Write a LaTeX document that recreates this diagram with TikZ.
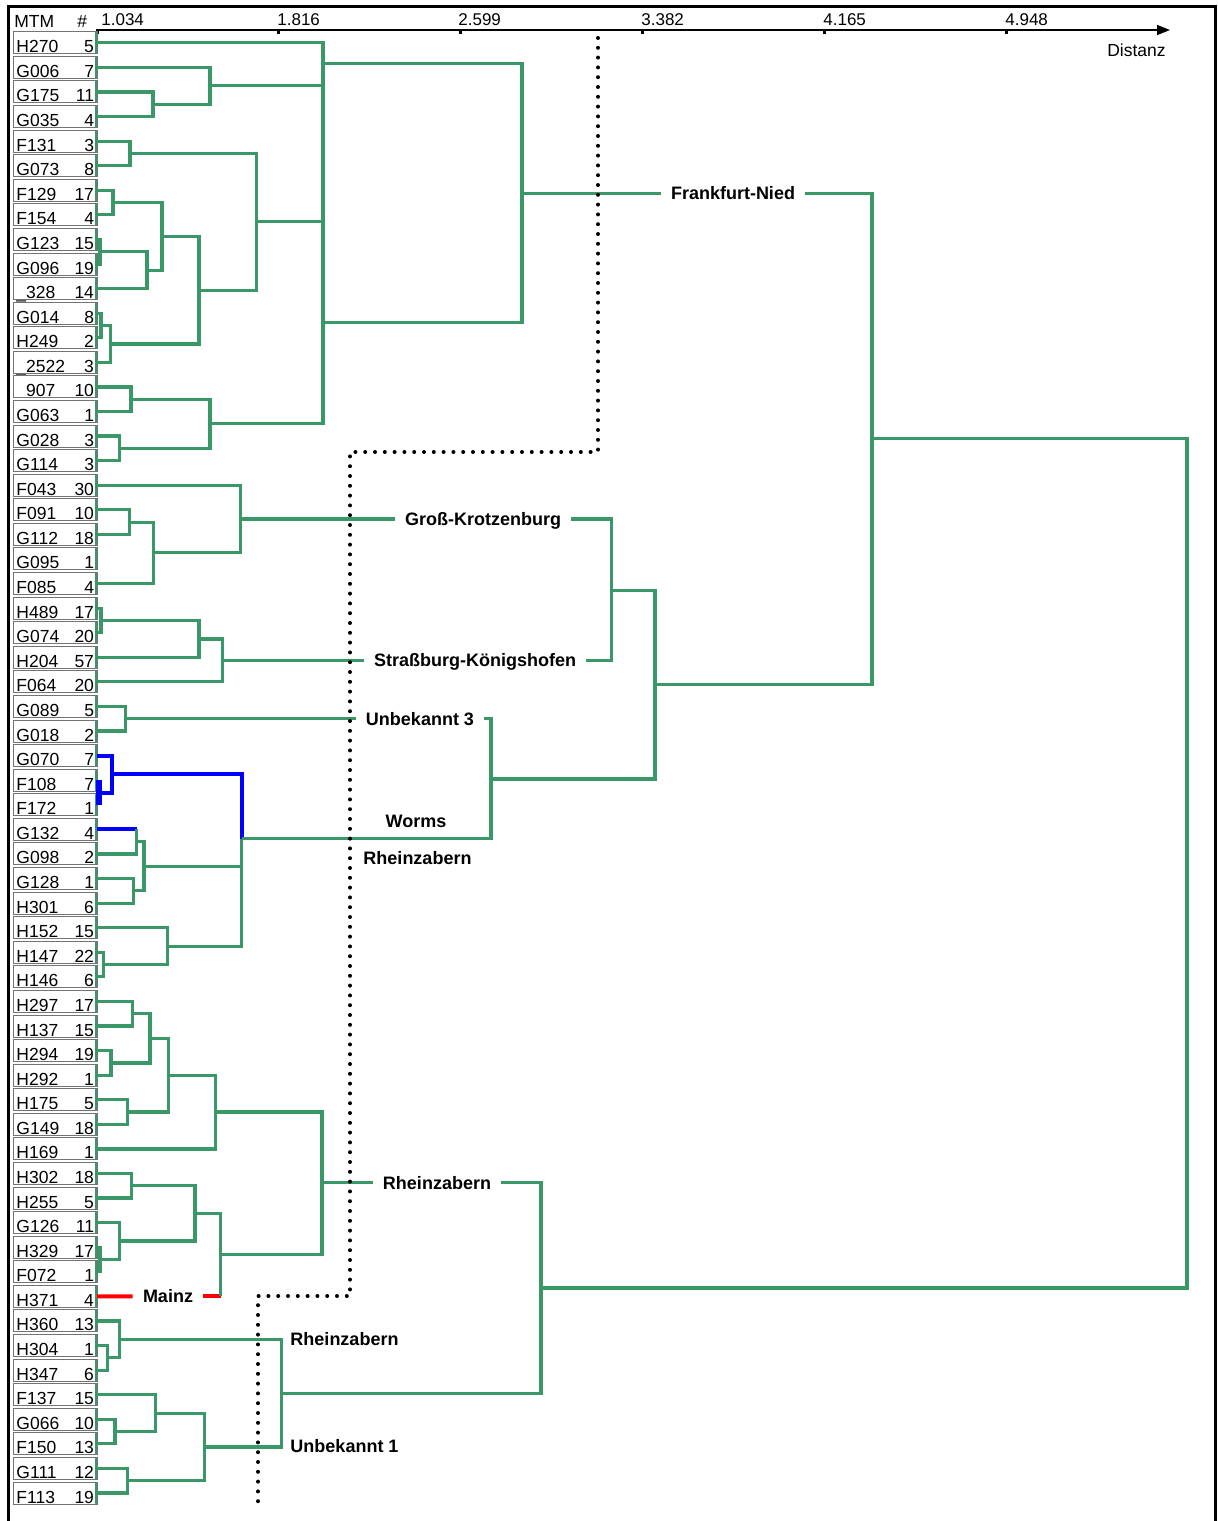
\documentclass[tikz,border=0pt]{standalone}
\usepackage{fontspec}
\setmainfont{Liberation Sans}
\usetikzlibrary{positioning, calc, arrows.meta}

\definecolor{treegreen}{RGB}{58,152,104}
\definecolor{wormsblue}{RGB}{0,0,255}
\definecolor{mainzred}{RGB}{255,0,0}

\tikzset{
  leaf/.style={draw=black!55, line width=0.5pt, outer sep=0pt, text width=38.75pt, text height=10pt, text depth=0pt,
    inner xsep=1.5pt, inner ysep=0.5pt, font=\fontsize{8.75}{10}\selectfont,
    path picture={\draw[treegreen, line width=0.8pt] ([xshift=-0.6pt]path picture bounding box.north east) -- ([xshift=-0.6pt]path picture bounding box.south east);}},
  link/.style={draw=treegreen, line width=1.6pt},
  worms/.style={draw=wormsblue, line width=2pt},
  mainz/.style={draw=mainzred, line width=2pt},
  site/.style={font=\fontsize{9}{10}\selectfont\bfseries, inner xsep=5pt, inner ysep=0pt, text height=6.5pt, text depth=0pt},
  cut/.style={draw=black, line width=2pt, line cap=round, dash pattern=on 0pt off 4.9pt},
  tickmark/.style={fill=black, minimum width=1.5pt, minimum height=2.5pt, inner sep=0pt},
  scalelabel/.style={font=\fontsize{8.5}{10}\selectfont, inner sep=0pt, anchor=west, text height=6.2pt, text depth=0pt},
}

\begin{document}
\begin{tikzpicture}[x=0.5pt, y=-0.5pt, node distance=1.29pt]
        \useasboundingbox (0,0) rectangle (1217,1521);

        % Frame
        \draw[line width=1.5pt] (8.7,1521) -- (8.7,6) -- (1215,6) -- (1215,1521);

        % Header and axis
        \node[scalelabel, font=\fontsize{8.75}{10}\selectfont] (mtm) at (14,21) {MTM};
        \node[scalelabel, font=\fontsize{8.75}{10}\selectfont] (hash) at (77,21) {\#};
        \draw[line width=0.75pt, -{Triangle[length=6.5pt, width=5pt]}] (97,30) -- (1170,30);
        \node[tickmark] (t1) at (97.5,31) {};
        \node[tickmark] (t2) at (278.9,31) {};
        \node[tickmark] (t3) at (460.8,31) {};
        \node[tickmark] (t4) at (642.7,31) {};
        \node[tickmark] (t5) at (824.6,31) {};
        \node[tickmark] (t6) at (1006.5,31) {};
        \node[scalelabel] (s1) at (101,19) {1.034};
        \node[scalelabel] (s2) at (277,19) {1.816};
        \node[scalelabel] (s3) at (458,19) {2.599};
        \node[scalelabel] (s4) at (641,19) {3.382};
        \node[scalelabel] (s5) at (823,19) {4.165};
        \node[scalelabel] (s6) at (1005,19) {4.948};
        \node[scalelabel, anchor=east, font=\fontsize{8.75}{10}\selectfont] (dist) at (1166,50) {Distanz};

        % Leaves
        \node[leaf] (H270) at (55.25,42.8) {H270\hfill 5};
        \node[leaf, below=of H270] (G006) {G006\hfill 7};
        \node[leaf, below=of G006] (G175) {G175\hfill 11};
        \node[leaf, below=of G175] (G035) {G035\hfill 4};
        \node[leaf, below=of G035] (F131) {F131\hfill 3};
        \node[leaf, below=of F131] (G073) {G073\hfill 8};
        \node[leaf, below=of G073] (F129) {F129\hfill 17};
        \node[leaf, below=of F129] (F154) {F154\hfill 4};
        \node[leaf, below=of F154] (G123) {G123\hfill 15};
        \node[leaf, below=of G123] (G096) {G096\hfill 19};
        \node[leaf, below=of G096] (n328) {\_328\hfill 14};
        \node[leaf, below=of n328] (G014) {G014\hfill 8};
        \node[leaf, below=of G014] (H249) {H249\hfill 2};
        \node[leaf, below=of H249] (n2522) {\_2522\hfill 3};
        \node[leaf, below=of n2522] (n907) {\hphantom{\_}907\hfill 10};
        \node[leaf, below=of n907] (G063) {G063\hfill 1};
        \node[leaf, below=of G063] (G028) {G028\hfill 3};
        \node[leaf, below=of G028] (G114) {G114\hfill 3};
        \node[leaf, below=of G114] (F043) {F043\hfill 30};
        \node[leaf, below=of F043] (F091) {F091\hfill 10};
        \node[leaf, below=of F091] (G112) {G112\hfill 18};
        \node[leaf, below=of G112] (G095) {G095\hfill 1};
        \node[leaf, below=of G095] (F085) {F085\hfill 4};
        \node[leaf, below=of F085] (H489) {H489\hfill 17};
        \node[leaf, below=of H489] (G074) {G074\hfill 20};
        \node[leaf, below=of G074] (H204) {H204\hfill 57};
        \node[leaf, below=of H204] (F064) {F064\hfill 20};
        \node[leaf, below=of F064] (G089) {G089\hfill 5};
        \node[leaf, below=of G089] (G018) {G018\hfill 2};
        \node[leaf, below=of G018] (G070) {G070\hfill 7};
        \node[leaf, below=of G070] (F108) {F108\hfill 7};
        \node[leaf, below=of F108] (F172) {F172\hfill 1};
        \node[leaf, below=of F172] (G132) {G132\hfill 4};
        \node[leaf, below=of G132] (G098) {G098\hfill 2};
        \node[leaf, below=of G098] (G128) {G128\hfill 1};
        \node[leaf, below=of G128] (H301) {H301\hfill 6};
        \node[leaf, below=of H301] (H152) {H152\hfill 15};
        \node[leaf, below=of H152] (H147) {H147\hfill 22};
        \node[leaf, below=of H147] (H146) {H146\hfill 6};
        \node[leaf, below=of H146] (H297) {H297\hfill 17};
        \node[leaf, below=of H297] (H137) {H137\hfill 15};
        \node[leaf, below=of H137] (H294) {H294\hfill 19};
        \node[leaf, below=of H294] (H292) {H292\hfill 1};
        \node[leaf, below=of H292] (H175) {H175\hfill 5};
        \node[leaf, below=of H175] (G149) {G149\hfill 18};
        \node[leaf, below=of G149] (H169) {H169\hfill 1};
        \node[leaf, below=of H169] (H302) {H302\hfill 18};
        \node[leaf, below=of H302] (H255) {H255\hfill 5};
        \node[leaf, below=of H255] (G126) {G126\hfill 11};
        \node[leaf, below=of G126] (H329) {H329\hfill 17};
        \node[leaf, below=of H329] (F072) {F072\hfill 1};
        \node[leaf, below=of F072] (H371) {H371\hfill 4};
        \node[leaf, below=of H371] (H360) {H360\hfill 13};
        \node[leaf, below=of H360] (H304) {H304\hfill 1};
        \node[leaf, below=of H304] (H347) {H347\hfill 6};
        \node[leaf, below=of H347] (F137) {F137\hfill 15};
        \node[leaf, below=of F137] (G066) {G066\hfill 10};
        \node[leaf, below=of G066] (F150) {F150\hfill 13};
        \node[leaf, below=of F150] (G111) {G111\hfill 12};
        \node[leaf, below=of G111] (F113) {F113\hfill 19};

        % Merge points
        \coordinate (fa) at (153,104.3);
        \coordinate (fb) at (210,85.8);
        \coordinate (fc) at (323,63.8);
        \coordinate (fd) at (130,153.4);
        \coordinate (fe) at (113,202.6);
        \coordinate (ff) at (100,251.7);
        \coordinate (fg) at (147,270.2);
        \coordinate (fh) at (162,236.4);
        \coordinate (fi) at (101,325.5);
        \coordinate (fj) at (110.7,343.9);
        \coordinate (fk) at (199,290.1);
        \coordinate (fl) at (256.7,221.8);
        \coordinate (fm) at (131,399.2);
        \coordinate (fn) at (119.3,448.4);
        \coordinate (fo) at (210,423.8);
        \coordinate (fp) at (323,322.8);
        \coordinate (fq) at (522,193.3);
        \coordinate (ga) at (129.3,522.1);
        \coordinate (gb) at (153.3,552.8);
        \coordinate (gc) at (240.7,519);
        \coordinate (sa) at (101,620.4);
        \coordinate (sb) at (199,638.9);
        \coordinate (sc) at (222.3,660.4);
        \coordinate (ka) at (611.7,590.2);
        \coordinate (u1) at (125.7,718.8);
        \coordinate (wa) at ($(F108.east)!0.5!(F172.east)$);
        \coordinate (wb) at (112,774);
        \coordinate (wc) at (136.7,841.7);
        \coordinate (wd) at (133.3,890.8);
        \coordinate (we) at (144,866.2);
        \coordinate (rh1) at (103.3,964.6);
        \coordinate (rh2) at (167.7,946.1);
        \coordinate (wf) at (241.7,838.5);
        \coordinate (ua) at (491,779);
        \coordinate (kb) at (655,684.5);
        \coordinate (root1) at (872,438.7);
        \coordinate (r1) at (132.7,1013.7);
        \coordinate (r2) at (111,1062.9);
        \coordinate (r3) at (150,1038.3);
        \coordinate (r4) at (127.7,1112);
        \coordinate (r5) at (168.3,1075.2);
        \coordinate (r6) at (215.7,1112);
        \coordinate (r7) at (131.7,1185.8);
        \coordinate (r8) at (100,1259.5);
        \coordinate (r9) at (119.3,1241);
        \coordinate (r10) at (195,1213.4);
        \coordinate (r11) at (220.7,1254.7);
        \coordinate (r12) at (322,1182.7);
        \coordinate (r13) at (107.7,1357.8);
        \coordinate (r14) at (119.3,1339.4);
        \coordinate (r15) at (115,1431.6);
        \coordinate (r16) at (155.7,1413.1);
        \coordinate (r17) at (127.7,1480.7);
        \coordinate (r18) at (204.3,1446.9);
        \coordinate (r19) at (281.7,1393.1);
        \coordinate (rb) at (541,1288);
        \coordinate (top) at (1187,863.4);

        % Site labels
        \node[site] (FN) at (733,193.3) {Frankfurt-Nied};
        \node[site] (GK) at (483,519) {Groß-Krotzenburg};
        \node[site] (SK) at (475,660.4) {Straßburg-Königshofen};
        \node[site] (U3) at (420,718.8) {Unbekannt 3};
        \node[site] (WO) at (416,821) {Worms};
        \node[site] (RZa) at (417.5,857.5) {Rheinzabern};
        \node[site] (RZ) at (437,1182.7) {Rheinzabern};
        \node[site] (MZ) at (168,1296.4) {Mainz};
        \node[site] (RZb) at (344.5,1339) {Rheinzabern};
        \node[site] (U1) at (344.5,1446) {Unbekannt 1};

        % Frankfurt-Nied
        \draw[link] (G175.east) -| (fa);
        \draw[link] (G035.east) -| (fa);
        \draw[link] (G006.east) -| (fb);
        \draw[link] (fa) -| (fb);
        \draw[link] (H270.east) -| (fc);
        \draw[link] (fb) -| (fc);
        \draw[link] (F131.east) -| (fd);
        \draw[link] (G073.east) -| (fd);
        \draw[link] (F129.east) -| (fe);
        \draw[link] (F154.east) -| (fe);
        \draw[link] (G123.east) -| (ff);
        \draw[link] (G096.east) -| (ff);
        \draw[link] (ff) -| (fg);
        \draw[link] (n328.east) -| (fg);
        \draw[link] (fe) -| (fh);
        \draw[link] (fg) -| (fh);
        \draw[link] (G014.east) -| (fi);
        \draw[link] (H249.east) -| (fi);
        \draw[link] (fi) -| (fj);
        \draw[link] (n2522.east) -| (fj);
        \draw[link] (fh) -| (fk);
        \draw[link] (fj) -| (fk);
        \draw[link] (fd) -| (fl);
        \draw[link] (fk) -| (fl);
        \draw[link] (n907.east) -| (fm);
        \draw[link] (G063.east) -| (fm);
        \draw[link] (G028.east) -| (fn);
        \draw[link] (G114.east) -| (fn);
        \draw[link] (fm) -| (fo);
        \draw[link] (fn) -| (fo);
        \draw[link] (fl) -| (fp);
        \draw[link] (fo) -| (fp);
        \draw[link] (fc) -- (fp);
        \draw[link] (fc) -| (fq);
        \draw[link] (fp) -| (fq);
        \draw[link] (fq) -- (FN.west);

        % Gross-Krotzenburg and Strassburg-Koenigshofen
        \draw[link] (F091.east) -| (ga);
        \draw[link] (G112.east) -| (ga);
        \draw[link] (ga) -| (gb);
        \draw[link] (F085.east) -| (gb);
        \draw[link] (F043.east) -| (gc);
        \draw[link] (gb) -| (gc);
        \draw[link] (gc) -- (GK.west);
        \draw[link] (H489.east) -| (sa);
        \draw[link] (G074.east) -| (sa);
        \draw[link] (sa) -| (sb);
        \draw[link] (H204.east) -| (sb);
        \draw[link] (sb) -| (sc);
        \draw[link] (F064.east) -| (sc);
        \draw[link] (sc) -- (SK.west);
        \draw[link] (GK.east) -| (ka);
        \draw[link] (SK.east) -| (ka);

        % Unbekannt 3 and Worms
        \draw[link] (G089.east) -| (u1);
        \draw[link] (G018.east) -| (u1);
        \draw[link] (u1) -- (U3.west);
        \draw[worms, line width=3pt] ([xshift=0.9pt]F108.east) -- ([xshift=0.9pt]F172.east);
        \draw[worms] (G070.east) -| (wb);
        \draw[worms] (wa) -| (wb);
        \draw[worms] (G132.east) -- (G132.east -| wc);
        \draw[link] (G132.east -| wc) -- (wc);
        \draw[link] (G098.east) -| (wc);
        \draw[link] (G128.east) -| (wd);
        \draw[link] (H301.east) -| (wd);
        \draw[link] (wc) -| (we);
        \draw[link] (wd) -| (we);
        \draw[link] (H147.east) -| (rh1);
        \draw[link] (H146.east) -| (rh1);
        \draw[link] (H152.east) -| (rh2);
        \draw[link] (rh1) -| (rh2);
        \draw[link] (we) -| (wf);
        \draw[link] (rh2) -| (wf);
        \draw[worms] (wb) -| (wf);
        \draw[link] (U3.east) -| (ua);
        \draw[link] (wf) -| (ua);
        \draw[link] (ka) -| (kb);
        \draw[link] (ua) -| (kb);
        \draw[link] (FN.east) -| (root1);
        \draw[link] (kb) -| (root1);

        % Rheinzabern
        \draw[link] (H297.east) -| (r1);
        \draw[link] (H137.east) -| (r1);
        \draw[link] (H294.east) -| (r2);
        \draw[link] (H292.east) -| (r2);
        \draw[link] (r1) -| (r3);
        \draw[link] (r2) -| (r3);
        \draw[link] (H175.east) -| (r4);
        \draw[link] (G149.east) -| (r4);
        \draw[link] (r3) -| (r5);
        \draw[link] (r4) -| (r5);
        \draw[link] (r5) -| (r6);
        \draw[link] (H169.east) -| (r6);
        \draw[link] (H302.east) -| (r7);
        \draw[link] (H255.east) -| (r7);
        \draw[link] (H329.east) -| (r8);
        \draw[link] (F072.east) -| (r8);
        \draw[link] (G126.east) -| (r9);
        \draw[link] (r8) -| (r9);
        \draw[link] (r7) -| (r10);
        \draw[link] (r9) -| (r10);
        \draw[link] (r10) -| (r11);
        \draw[mainz] (H371.east) -- (MZ.west);
        \draw[mainz] (MZ.east) -- (MZ.east -| r11);
        \draw[link] (MZ.east -| r11) -- (r11);
        \draw[link] (r6) -| (r12);
        \draw[link] (r11) -| (r12);
        \draw[link] (r12) -- (RZ.west);
        \draw[link] (H304.east) -| (r13);
        \draw[link] (H347.east) -| (r13);
        \draw[link] (H360.east) -| (r14);
        \draw[link] (r13) -| (r14);
        \draw[link] (G066.east) -| (r15);
        \draw[link] (F150.east) -| (r15);
        \draw[link] (F137.east) -| (r16);
        \draw[link] (r15) -| (r16);
        \draw[link] (G111.east) -| (r17);
        \draw[link] (F113.east) -| (r17);
        \draw[link] (r16) -| (r18);
        \draw[link] (r17) -| (r18);
        \draw[link] (r14) -| (r19);
        \draw[link] (r18) -| (r19);
        \draw[link] (RZ.east) -| (rb);
        \draw[link] (r19) -| (rb);

        % Root
        \draw[link] (root1) -| (top);
        \draw[link] (rb) -| (top);

        % Cut line
        \draw[cut] (598,38) |- (350,452) |- (258,1296) -- (258,1508);
\end{tikzpicture}
\end{document}
